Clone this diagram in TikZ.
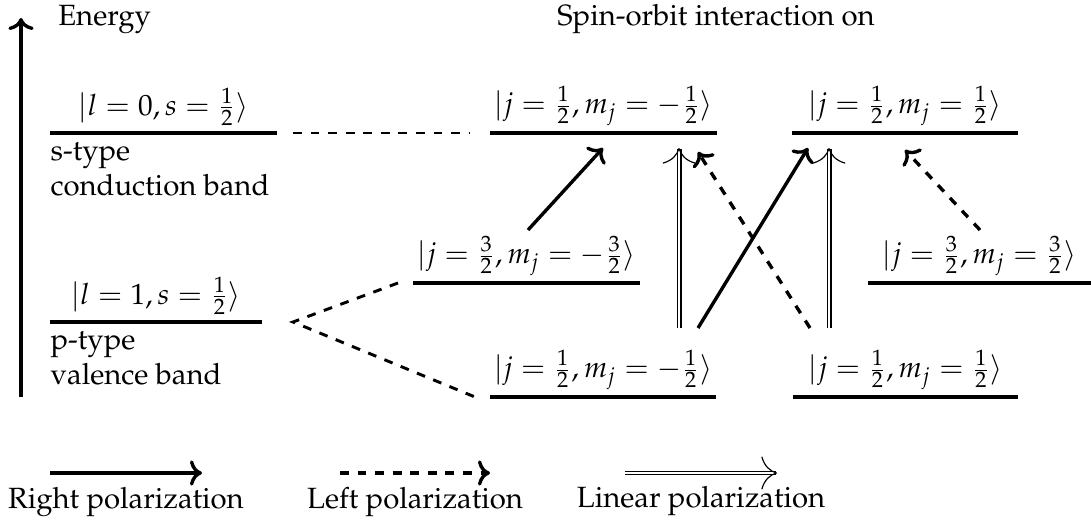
\documentclass[tikz,border=0pt]{standalone}
\usepackage[T1]{fontenc}
\usepackage{mathpazo}
\usepackage{amsmath}
\usetikzlibrary{arrows.meta,positioning,calc}
\tikzset{
  level/.style={line width=1.2pt},
  lvllbl/.style={above, inner sep=2pt},
  bandtxt/.style={anchor=north west, align=left, inner xsep=0pt, inner ysep=3pt},
  split/.style={line width=1pt, dashed},
  rpol/.style={->, line width=1.15pt},
  lpol/.style={->, line width=1.15pt, dashed},
  linpol/.style={->, double, double distance=0.9pt, line width=0.4pt},
  keylbl/.style={below=1pt}
}

\begin{document}
\begin{tikzpicture}[x=0.12mm, y=-0.12mm]
  \useasboundingbox (0,0) rectangle (1091,521);
  % energy axis
  \coordinate (e0) at (21,397);
  \coordinate (e1) at (21,18);
  \draw[->, line width=1.15pt] (e0) -- (e1);
  \node[anchor=base west] (energy) at (48,26) {Energy};
  \node[anchor=base] (soi) at (716,26) {Spin-orbit interaction on};
  % levels
  \foreach \n/\xa/\xb/\y/\lab in {
      s/50/277/133/{$|l=0,s=\frac12\rangle$},
      p/50/262/322/{$|l=1,s=\frac12\rangle$},
      cA/490/717/133/{$|j=\frac12,m_j=-\frac12\rangle$},
      cB/792/1018/133/{$|j=\frac12,m_j=\frac12\rangle$},
      hA/413/640/283/{$|j=\frac32,m_j=-\frac32\rangle$},
      hB/868/1091/283/{$|j=\frac32,m_j=\frac32\rangle$},
      lA/490/716/397/{$|j=\frac12,m_j=-\frac12\rangle$},
      lB/793/1018/397/{$|j=\frac12,m_j=\frac12\rangle$}}{
    \coordinate (\n-l) at (\xa,\y);
    \coordinate (\n-r) at (\xb,\y);
    \draw[level] (\n-l) -- (\n-r) node[midway, lvllbl] (\n-lab) {\lab};
  }
  \node[bandtxt] (s-txt) at (s-l) {s-type\\conduction band};
  \node[bandtxt] (p-txt) at (p-l) {p-type\\valence band};
  % splitting
  \coordinate (sp) at ($(p-r)+(31,0)$);
  \draw[split] ($(s-r)+(16,0)$) -- ($(cA-l)+(-20,0)$);
  \draw[split] ($(hA-l)+(-15,0)$) -- (sp) -- ($(lA-l)+(-15,0)$);
  % transitions
  \coordinate (hA-up) at (528,230);
  \coordinate (lA-up1) at (679,328);
  \coordinate (lA-up2) at (698,328);
  \coordinate (lB-up1) at (810,328);
  \coordinate (lB-up2) at (829,328);
  \coordinate (hB-up) at (980,230);
  \coordinate (cA-dn1) at (603,148);
  \coordinate (cA-dn2) at (679,148);
  \coordinate (cA-dn3) at (698,152);
  \coordinate (cB-dn1) at (808,148);
  \coordinate (cB-dn2) at (829,148);
  \coordinate (cB-dn3) at (905,150);
  \draw[rpol] (hA-up) -- (cA-dn1);
  \draw[linpol] (lA-up1) -- (cA-dn2);
  \draw[lpol] (lB-up1) -- (cA-dn3);
  \draw[rpol] (lA-up2) -- (cB-dn1);
  \draw[linpol] (lB-up2) -- (cB-dn2);
  \draw[lpol] (hB-up) -- (cB-dn3);
  % legend
  \coordinate (k1) at (50,473);
  \coordinate (k2) at (340,473);
  \coordinate (k3) at (625,473);
  \draw[rpol] (k1) -- ++(152,0) node[midway, keylbl] (k1-lab) {Right polarization};
  \draw[lpol] (k2) -- ++(150,0) node[midway, keylbl] (k2-lab) {Left polarization};
  \draw[linpol] (k3) -- ++(152,0) node[midway, keylbl] (k3-lab) {Linear polarization};
\end{tikzpicture}
\end{document}
